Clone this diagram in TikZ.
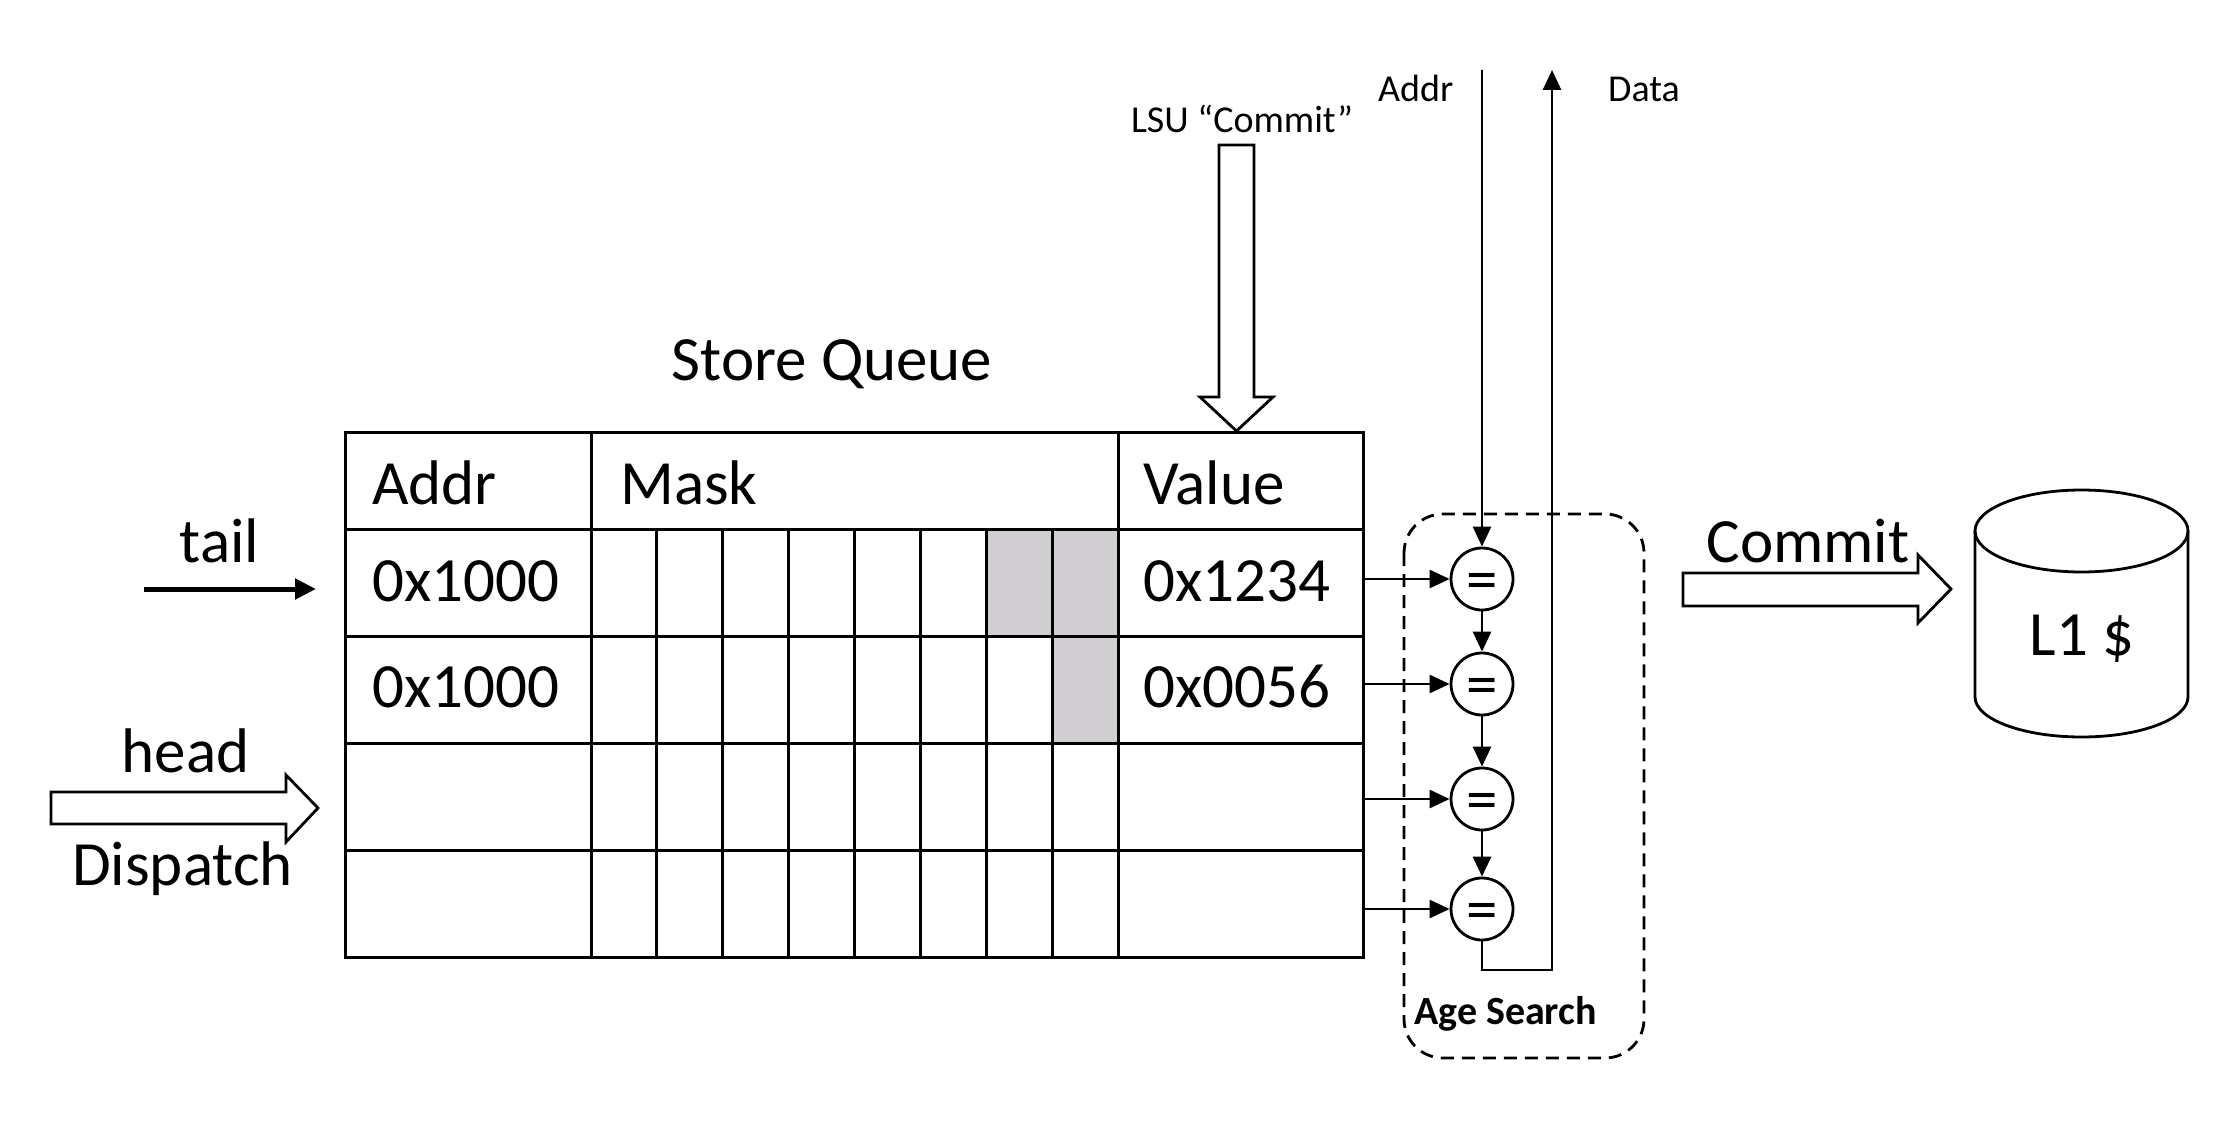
\documentclass[tikz,border=0pt]{standalone}
\usepackage{fontspec}
\setmainfont{Carlito}
\usetikzlibrary{arrows.meta}
\definecolor{maskgray}{RGB}{208,206,208}
\newcommand{\sqbig}{\fontsize{63}{70}\selectfont}
\newcommand{\sqsmall}{\fontsize{38}{44}\selectfont}
\newcommand{\sqbold}{\fontsize{40}{46}\selectfont\bfseries}

\begin{document}
\begin{tikzpicture}[x=1pt, y=-1pt,
    cellbox/.style={draw, line width=3pt, anchor=north west, minimum height=107, inner sep=0pt, outer sep=0pt},
    celltext/.style={anchor=base west, inner sep=0pt, font=\sqbig},
    bigtext/.style={anchor=base, inner sep=0pt, font=\sqbig},
    smalltext/.style={anchor=base, inner sep=0pt, font=\sqsmall},
    eqnode/.style={circle, draw, line width=2.8pt, minimum size=62, inner sep=0pt, font=\sqbig, text height=42pt, text depth=0pt},
    sig/.style={line width=2.8pt, -{Triangle[length=20pt,width=18pt]}},
    hollow/.style={draw, line width=2.8pt, fill=white, line join=miter},
    agebox/.style={line width=2.8pt, dash pattern=on 13pt off 8pt, rounded corners=39pt}]
\useasboundingbox (0,0) rectangle (2220,1145);

% store queue
\node[bigtext] (title) at (832,380) {Store Queue};
\fill[maskgray] (986.25,529) rectangle (1118,636);
\fill[maskgray] (1052.1,636) rectangle (1118,743);
\node[cellbox, minimum width=246, minimum height=97] (hAddr) at (345,432) {};
\node[cellbox, minimum width=527, minimum height=97] (hMask) at (591,432) {};
\node[cellbox, minimum width=245, minimum height=97] (hValue) at (1118,432) {};
\foreach \r in {1,...,4} {
  \pgfmathsetmacro\rowtop{529+(\r-1)*107}
  \node[cellbox, minimum width=246] (a\r) at (345,\rowtop) {};
  \foreach \k in {1,...,8}
    \node[cellbox, minimum width=65.875] (m\r\k) at ({591+(\k-1)*65.875},\rowtop) {};
  \node[cellbox, minimum width=245] (v\r) at (1118,\rowtop) {};
}
\node[celltext] at (372,504) {Addr};
\node[celltext] at (620,504) {Mask};
\node[celltext] at (1143,504) {Value};
\node[celltext] at (372,601) {0x1000};
\node[celltext] at (1143,601) {0x1234};
\node[celltext] at (372,707) {0x1000};
\node[celltext] at (1143,707) {0x0056};

% tail / head
\coordinate (tailin) at (144,589);
\node[bigtext] (tail) at (219.5,562) {tail};
\draw[line width=5pt, -{Triangle[length=21pt,width=20pt]}, shorten >=29pt] (tailin) -- (a1.west |- tailin);
\node[bigtext] (head) at (185.5,772) {head};
\draw[hollow] (51,792) -- (286,792) -- (286,775) -- (318,808) -- (286,842) -- (286,824) -- (51,824) -- cycle;
\node[bigtext] (dispatch) at (182.5,885) {Dispatch};

% lsu commit
\node[smalltext] (lsu) at (1242,133) {LSU ``Commit''};
\draw[hollow] (1219,145) -- (1254,145) -- (1254,397) -- (1273,397) -- (1236.5,431) -- (1200,397) -- (1219,397) -- cycle;

% age search
\draw[agebox] (1404,514) rectangle (1644,1058);
\node[anchor=base west, inner sep=0pt, font=\sqbold] (age) at (1414,1024) {Age Search};
\foreach \r/\y in {1/579,2/684,3/799,4/909}
  \node[eqnode] (eq\r) at (1482,\y) {=};
\node[smalltext, anchor=base west] (addrlbl) at (1378,102) {Addr};
\node[smalltext, anchor=base west] (datalbl) at (1608,102) {Data};
\coordinate (addrin) at (1482,70);
\coordinate (dataout) at (1552,70);
\coordinate (dturn) at (1552,970);
\draw[sig] (addrin) -- (eq1);
\foreach \a/\b in {1/2,2/3,3/4}
  \draw[sig] (eq\a) -- (eq\b);
\foreach \r in {1,...,4}
  \draw[sig] (v\r.east |- eq\r) -- (eq\r);
\draw[sig] (eq4.south) |- (dturn) -- (dataout);

% commit to L1
\node[bigtext] (commit) at (1808,562) {Commit};
\draw[hollow] (1683,573) -- (1918,573) -- (1918,555) -- (1951,589) -- (1918,623) -- (1918,606) -- (1683,606) -- cycle;
\draw[line width=2.8pt] (2081.5,531) ellipse [x radius=106.5, y radius=41];
\draw[line width=2.8pt] (1975,531) -- (1975,697) arc[start angle=180, end angle=0, x radius=106.5, y radius=40] -- (2188,531);
\node[bigtext] (l1) at (2082,655) {L1 \$};
\end{tikzpicture}
\end{document}
